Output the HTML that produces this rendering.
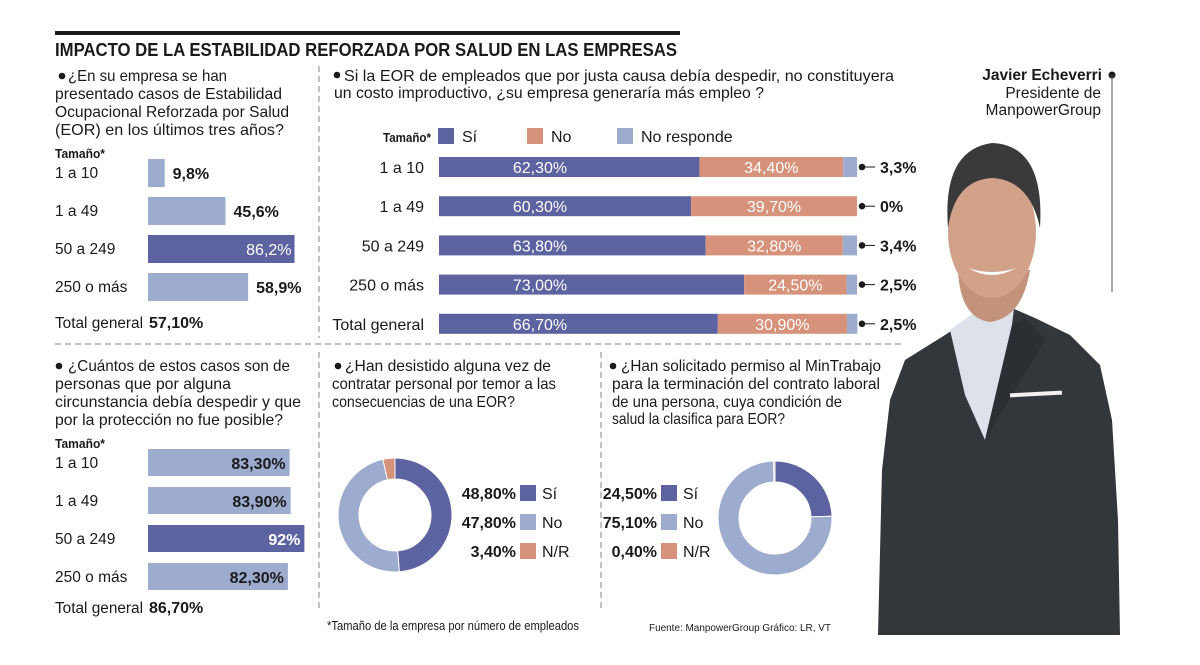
<!DOCTYPE html>
<html><head><meta charset="utf-8"><style>
html,body{margin:0;padding:0;background:#fff}
svg{display:block;font-family:"Liberation Sans",sans-serif}
</style></head><body>
<svg id="s" width="1200" height="665" viewBox="0 0 1200 665" xmlns="http://www.w3.org/2000/svg">
<rect width="1200" height="665" fill="#fff"/>
<rect x="55" y="31" width="625" height="4" fill="#1a1a1a"/>
<text x="55" y="56" font-size="18" font-weight="bold" textLength="622" lengthAdjust="spacingAndGlyphs" fill="#1a1a1a">IMPACTO DE LA ESTABILIDAD REFORZADA POR SALUD EN LAS EMPRESAS</text>
<g stroke="#999" stroke-width="1.2" stroke-dasharray="6,4" fill="none">
<line x1="319" y1="66" x2="319" y2="338"/>
<line x1="55" y1="344" x2="905" y2="344"/>
<line x1="319" y1="352" x2="319" y2="612"/>
<line x1="601" y1="352" x2="601" y2="612"/>
</g>
<g font-size="16" fill="#1a1a1a">
<circle cx="62" cy="76" r="3.3"/>
<text x="68" y="81" textLength="159" lengthAdjust="spacingAndGlyphs">¿En su empresa se han</text>
<text x="55" y="99" textLength="227" lengthAdjust="spacingAndGlyphs">presentado casos de Estabilidad</text>
<text x="55" y="117" textLength="234" lengthAdjust="spacingAndGlyphs">Ocupacional Reforzada por Salud</text>
<text x="55" y="135" textLength="229" lengthAdjust="spacingAndGlyphs">(EOR) en los últimos tres años?</text>
<text x="55" y="158" font-size="13" font-weight="bold" textLength="50" lengthAdjust="spacingAndGlyphs">Tamaño*</text>
</g>
<g font-size="16" fill="#1a1a1a">
<circle cx="337" cy="75" r="3.3"/>
<text x="344" y="81" textLength="550" lengthAdjust="spacingAndGlyphs">Si la EOR de empleados que por justa causa debía despedir, no constituyera</text>
<text x="334" y="98" textLength="430" lengthAdjust="spacingAndGlyphs">un costo improductivo, ¿su empresa generaría más empleo ?</text>
<text x="383" y="142" font-size="13" font-weight="bold" textLength="48" lengthAdjust="spacingAndGlyphs">Tamaño*</text>
</g>
<g font-size="16" fill="#1a1a1a">
<circle cx="59" cy="366" r="3.3"/>
<text x="68" y="371" textLength="222" lengthAdjust="spacingAndGlyphs">¿Cuántos de estos casos son de</text>
<text x="55" y="389" textLength="176" lengthAdjust="spacingAndGlyphs">personas que por alguna</text>
<text x="55" y="407" textLength="246" lengthAdjust="spacingAndGlyphs">circunstancia debía despedir y que</text>
<text x="55" y="425" textLength="228" lengthAdjust="spacingAndGlyphs">por la protección no fue posible?</text>
<text x="55" y="448" font-size="13" font-weight="bold" textLength="50" lengthAdjust="spacingAndGlyphs">Tamaño*</text>
</g>
<g font-size="16" fill="#1a1a1a">
<circle cx="338" cy="366" r="3.3"/>
<text x="345" y="371" textLength="206" lengthAdjust="spacingAndGlyphs">¿Han desistido alguna vez de</text>
<text x="332" y="389" textLength="224" lengthAdjust="spacingAndGlyphs">contratar personal por temor a las</text>
<text x="332" y="407" textLength="183" lengthAdjust="spacingAndGlyphs">consecuencias de una EOR?</text>
</g>
<g font-size="16" fill="#1a1a1a">
<circle cx="613" cy="366" r="3.3"/>
<text x="621" y="371" textLength="260" lengthAdjust="spacingAndGlyphs">¿Han solicitado permiso al MinTrabajo</text>
<text x="612" y="389" textLength="268" lengthAdjust="spacingAndGlyphs">para la terminación del contrato laboral</text>
<text x="612" y="407" textLength="230" lengthAdjust="spacingAndGlyphs">de una persona, cuya condición de</text>
<text x="612" y="424" textLength="173" lengthAdjust="spacingAndGlyphs">salud la clasifica para EOR?</text>
</g>
<text x="327" y="630" font-size="12.5" fill="#1a1a1a" textLength="252" lengthAdjust="spacingAndGlyphs">*Tamaño de la empresa por número de empleados</text>
<text x="649" y="631" font-size="10.5" fill="#1a1a1a" textLength="182" lengthAdjust="spacingAndGlyphs">Fuente: ManpowerGroup    Gráfico: LR, VT</text>

<g>
<path d="M878 635 L882 470 L890 400 L905 360 L945 335 L975 315 L1005 305 L1035 318 L1070 335 L1100 365 L1112 420 L1118 520 L1120 635 Z" fill="#33363b"/>
<path d="M950 330 L985 305 L1015 300 L1012 325 L985 440 L965 395 Z" fill="#dde2ea"/>
<path d="M985 440 L1012 325 L1025 318 L1045 340 Z" fill="#2b2e33"/>
<rect x="1010" y="392" width="52" height="4" fill="#f2f2f2" transform="rotate(-3 1036 394)"/>
<path d="M958 270 Q960 318 990 322 Q1022 318 1030 270 Z" fill="#c3927b"/>
<ellipse cx="992" cy="232" rx="44" ry="66" fill="#d1a18a"/>
<path d="M948 228 Q942 150 992 143 Q1045 145 1040 228 Q1030 180 992 178 Q955 180 948 228 Z" fill="#3b3a3a"/>
<path d="M968 268 Q992 282 1016 268 Q992 276 968 268 Z" fill="#fff"/>
</g>
<g fill="#1a1a1a">
<text x="1102" y="80" font-size="15.5" font-weight="bold" text-anchor="end">Javier Echeverri</text>
<text x="1101" y="98" font-size="15.5" text-anchor="end">Presidente de</text>
<text x="1101" y="115" font-size="15.5" text-anchor="end">ManpowerGroup</text>
<circle cx="1112" cy="75" r="3.5"/>
<line x1="1112" y1="75" x2="1112" y2="292" stroke="#555" stroke-width="1"/>
</g>
<g id="charts"></g>
</svg>
<script>
const NS="http://www.w3.org/2000/svg";
const c1Cats=["1 a 10","1 a 49","50 a 249","250 o más"];
const c1Vals=[9.8,45.6,86.2,58.9];
const c1Labels=["9,8%","45,6%","86,2%","58,9%"];
const c1Total="57,10%";
const c3Cats=["1 a 10","1 a 49","50 a 249","250 o más"];
const c3Vals=[83.3,83.9,92,82.3];
const c3Labels=["83,30%","83,90%","92%","82,30%"];
const c3Total="86,70%";
const c2Cats=["1 a 10","1 a 49","50 a 249","250 o más","Total general"];
const c2Si=[62.3,60.3,63.8,73.0,66.7];
const c2No=[34.4,39.7,32.8,24.5,30.9];
const c2Nr=[3.3,0,3.4,2.5,2.5];
const c2SiL=["62,30%","60,30%","63,80%","73,00%","66,70%"];
const c2NoL=["34,40%","39,70%","32,80%","24,50%","30,90%"];
const c2NrL=["3,3%","0%","3,4%","2,5%","2,5%"];
const d1Vals=[48.8,47.8,3.4];
const d1Labels=["48,80%","47,80%","3,40%"];
const d2Vals=[24.5,75.1,0.4];
const d2Labels=["24,50%","75,10%","0,40%"];
const legCats=["Sí","No","N/R"];
const DARK="#5c63a0",LIGHT="#9dabcf",ORANGE="#d6927a";
const root=document.getElementById('charts');
function mk(tag,attrs,parent,txt){const e=document.createElementNS(NS,tag);for(const k in attrs)e.setAttribute(k,attrs[k]);if(txt!==undefined)e.textContent=txt;(parent||root).appendChild(e);return e;}

// Chart 1
const g1=mk('g',{});


const x1=v=>v*1.7;
c1Cats.forEach((c,i)=>{
  const y=159+i*38;
  const t=mk('text',{x:55,y:y+19,'font-size':15.5,fill:'#1a1a1a'},g1,c);
  
  
  const hi=c1Vals[i]===Math.max(...c1Vals);
  const r=mk('rect',{x:148,y:y,width:x1(c1Vals[i]),height:28,fill:hi?DARK:LIGHT},g1);
  
  
  const lt=hi?mk('text',{x:148+x1(c1Vals[i])-3,y:y+20,'font-size':16,fill:'#fff','text-anchor':'end'},g1,c1Labels[i])
           :mk('text',{x:148+x1(c1Vals[i])+8,y:y+20,'font-size':16,'font-weight':'bold',fill:'#1a1a1a'},g1,c1Labels[i]);
  
  
});
const t1a=mk('text',{x:55,y:328,'font-size':15.5,fill:'#1a1a1a',textLength:88,lengthAdjust:'spacingAndGlyphs'},g1,"Total general");


const t1b=mk('text',{x:149,y:328,'font-size':16,'font-weight':'bold',fill:'#1a1a1a'},g1,c1Total);



// Chart 3
const g3=mk('g',{});


c3Cats.forEach((c,i)=>{
  const y=449+i*38;
  const t=mk('text',{x:55,y:y+19,'font-size':15.5,fill:'#1a1a1a'},g3,c);
  
  
  const hi=c3Vals[i]===Math.max(...c3Vals);
  const r=mk('rect',{x:148,y:y,width:x1(c3Vals[i]),height:27,fill:hi?DARK:LIGHT},g3);
  
  
  const lt=mk('text',{x:148+x1(c3Vals[i])-4,y:y+20,'font-size':16,'font-weight':'bold',fill:hi?'#fff':'#1a1a1a','text-anchor':'end'},g3,c3Labels[i]);
  
  
});
const t3a=mk('text',{x:55,y:613,'font-size':15.5,fill:'#1a1a1a',textLength:88,lengthAdjust:'spacingAndGlyphs'},g3,"Total general");


const t3b=mk('text',{x:149,y:613,'font-size':16,'font-weight':'bold',fill:'#1a1a1a'},g3,c3Total);



// Chart 2 stacked
const g2=mk('g',{});


const lg=[["Sí",DARK,438],["No",ORANGE,527],["No responde",LIGHT,617]];
lg.forEach(l=>{
  const r=mk('rect',{x:l[2],y:128,width:16,height:16,fill:l[1]},g2);
  
  
  const t=mk('text',{x:l[2]+24,y:142,'font-size':16,fill:'#1a1a1a'},g2,l[0]);
  
  
});
const X0=439,W=418;
const xs=v=>v/100*W;
c2Cats.forEach((c,i)=>{
  const y=157+i*39.2;
  const t=mk('text',{x:424,y:y+16,'font-size':16,fill:'#1a1a1a','text-anchor':'end'},g2,c);
  
  
  const a=mk('rect',{x:X0,y:y,width:xs(c2Si[i]),height:20,fill:DARK},g2);
  
  
  const b=mk('rect',{x:X0+xs(c2Si[i]),y:y,width:xs(c2No[i]),height:20,fill:ORANGE},g2);
  
  
  const d=mk('rect',{x:X0+xs(c2Si[i]+c2No[i]),y:y,width:xs(c2Nr[i]),height:20,fill:LIGHT},g2);
  
  
  const l1=mk('text',{x:540,y:y+16,'font-size':16,fill:'#fff','text-anchor':'middle'},g2,c2SiL[i]);
  
  
  const l2=mk('text',{x:X0+xs(c2Si[i])+xs(c2No[i])/2,y:y+16,'font-size':16,fill:'#fff','text-anchor':'middle'},g2,c2NoL[i]);
  
  
  const dot=mk('circle',{cx:862,cy:y+10,r:3.3,fill:'#1a1a1a'},g2);
  
  
  const ln=mk('line',{x1:862,y1:y+10,x2:875,y2:y+10,stroke:'#1a1a1a','stroke-width':1},g2);
  
  
  const l3=mk('text',{x:880,y:y+16,'font-size':16,'font-weight':'bold',fill:'#1a1a1a'},g2,c2NrL[i]);
  
  
});

// Donuts
function donut(name,cx,cy,vals,labels,lx,ly){
  const g=mk('g',{});
  
  
  const cols=[DARK,LIGHT,ORANGE];
  const R=57,r=36;const tot=vals.reduce((a,b)=>a+b,0);let acc=0;
  vals.forEach((v,i)=>{
    const a0=acc/tot*2*Math.PI-Math.PI/2;acc+=v;const a1=acc/tot*2*Math.PI-Math.PI/2;
    const lg=(a1-a0)>Math.PI?1:0;
    const p=`M${cx+R*Math.cos(a0)} ${cy+R*Math.sin(a0)} A${R} ${R} 0 ${lg} 1 ${cx+R*Math.cos(a1)} ${cy+R*Math.sin(a1)} L${cx+r*Math.cos(a1)} ${cy+r*Math.sin(a1)} A${r} ${r} 0 ${lg} 0 ${cx+r*Math.cos(a0)} ${cy+r*Math.sin(a0)} Z`;
    const s=mk('path',{d:p,fill:cols[i],stroke:'#fff','stroke-width':1},g);
    
    
    const yy=ly+i*29;
    const t=mk('text',{x:lx-4,y:yy+14,'font-size':16,'font-weight':'bold',fill:'#1a1a1a','text-anchor':'end'},g,labels[i]);
    
    
    const q=mk('rect',{x:lx,y:yy,width:16,height:16,fill:cols[i]},g);
    
    
    const n=mk('text',{x:lx+22,y:yy+14,'font-size':16,fill:'#1a1a1a'},g,legCats[i]);
    
    
  });
}
donut('donut-desisted',395,515,d1Vals,d1Labels,520,485);
donut('donut-mintrabajo',775,518,d2Vals,d2Labels,661,485);
</script>
</body></html>
